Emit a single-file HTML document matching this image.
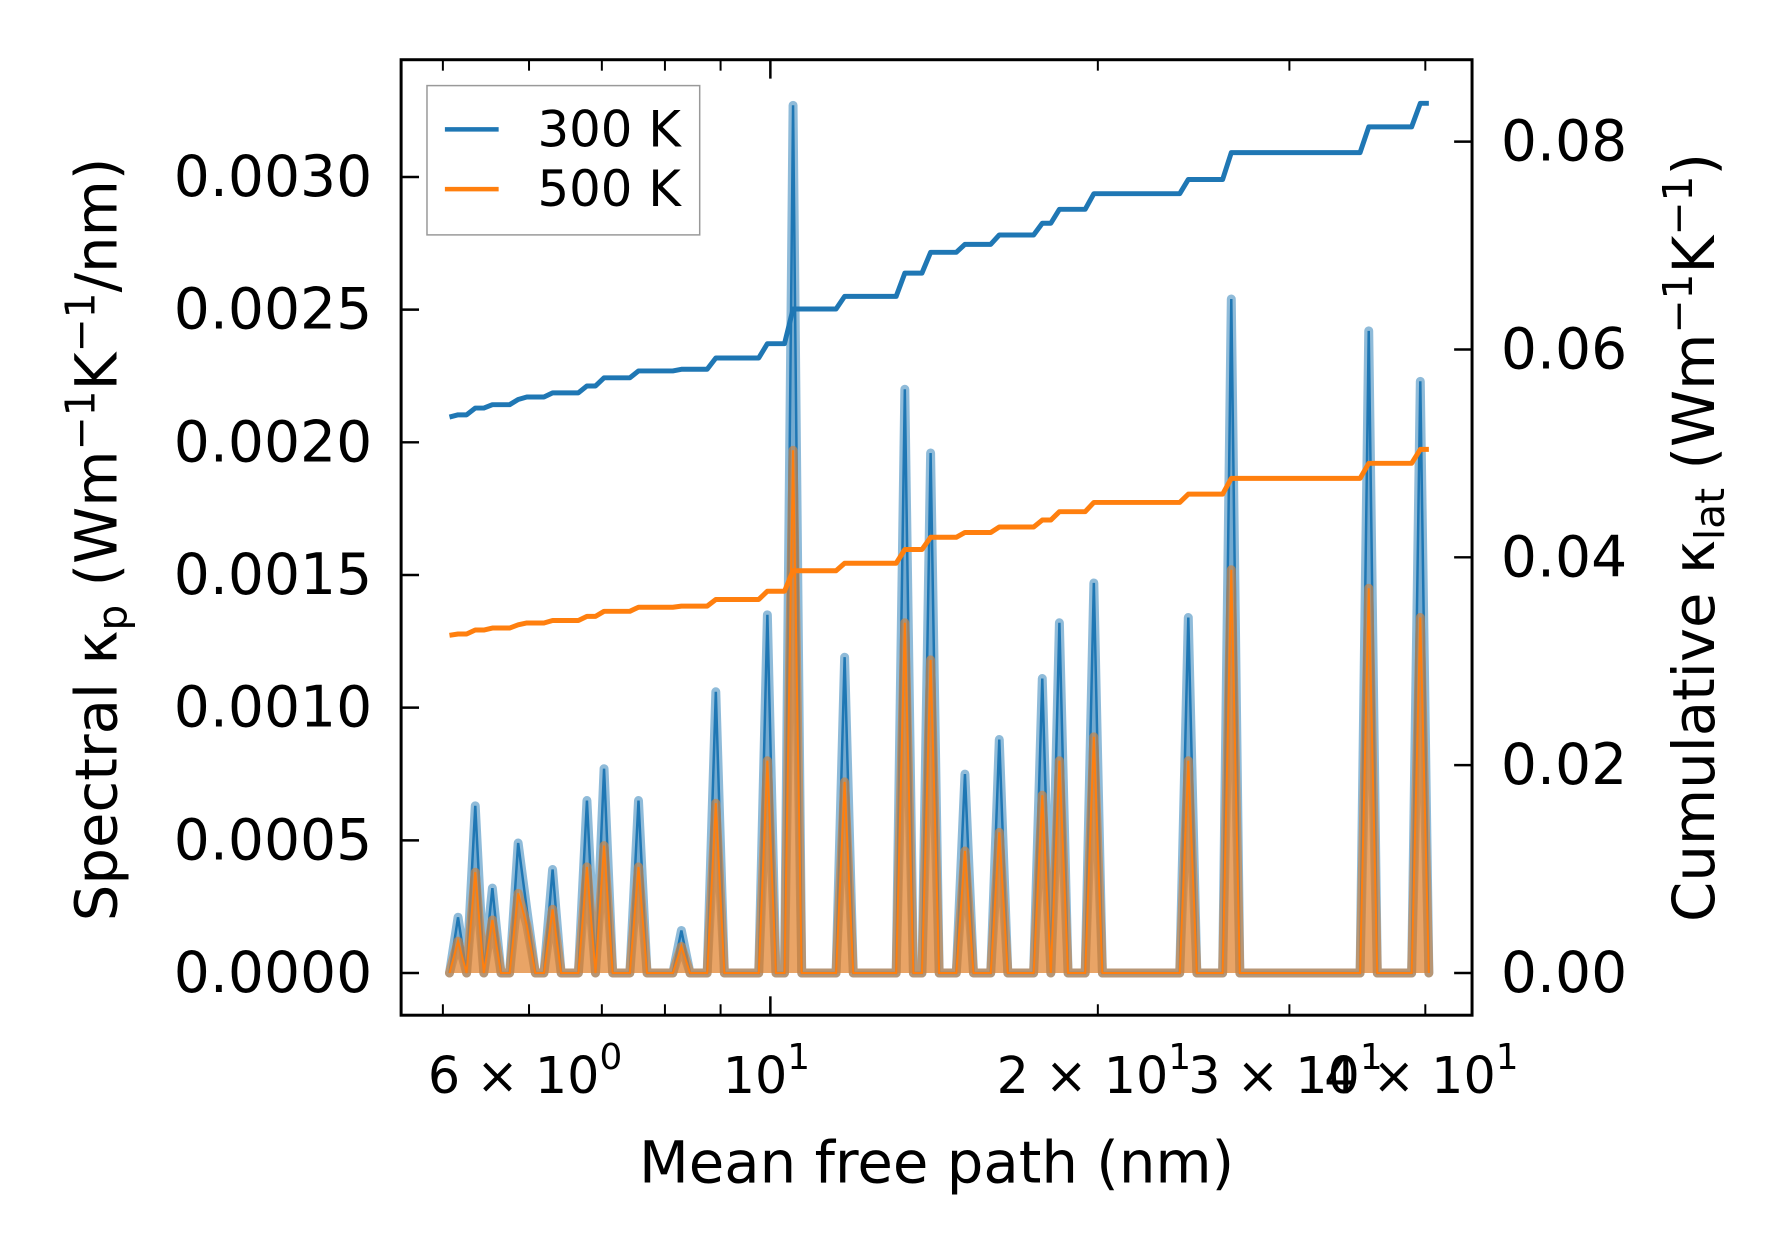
<!DOCTYPE html>
<html><head><meta charset="utf-8">
<style>
html,body{margin:0;padding:0;background:#fff;}
svg{display:block;font-family:"DejaVu Sans","Liberation Sans",sans-serif;}
</style></head>
<body>
<svg id="chart" width="1790" height="1253" viewBox="0 0 1790 1253" xmlns="http://www.w3.org/2000/svg">
<rect x="0" y="0" width="1790" height="1253" fill="#fff"/>
<defs><clipPath id="clip"><rect x="403" y="60" width="1076" height="960"/></clipPath></defs>
<g transform="scale(0.9953)">
<g id="series" clip-path="url(#clip)"></g>
<g id="axes"></g>
<g>
  <rect x="429" y="86" width="274" height="150" fill="#fff" fill-opacity="0.8" stroke="#999" stroke-width="1.5"/>
  <line x1="447" y1="130" x2="501" y2="130" stroke="#1f77b4" stroke-width="4.5"/>
  <text x="540" y="147" font-size="50">300 K</text>
  <line x1="447" y1="190" x2="501" y2="190" stroke="#ff7f0e" stroke-width="4.5"/>
  <text x="540" y="207" font-size="50">500 K</text>
</g>
<text x="941" y="1188" font-size="58" text-anchor="middle">Mean free path (nm)</text>
<text transform="translate(117,542) rotate(-90)" font-size="58" text-anchor="middle">Spectral κ<tspan font-size="41" dy="10">p</tspan><tspan dy="-10"> (Wm</tspan><tspan font-size="41" dy="-22">−1</tspan><tspan dy="22">K</tspan><tspan font-size="41" dy="-22">−1</tspan><tspan dy="22">/nm)</tspan></text>
<text transform="translate(1722,540) rotate(-90)" font-size="58" text-anchor="middle">Cumulative κ<tspan font-size="41" dy="10">lat</tspan><tspan dy="-10"> (Wm</tspan><tspan font-size="41" dy="-22">−1</tspan><tspan dy="22">K</tspan><tspan font-size="41" dy="-22">−1</tspan><tspan dy="22">)</tspan></text>
</g>
</svg>
<script>
// ---- data ----
const peakX = [5.16,5.38,5.60,5.84,6.01,6.36,6.80,7.00,7.60,8.35,8.85,9.87,10.58,11.66,13.38,13.94,15.17,16.23,17.88,18.41,19.93,24.24,26.33,35.27,39.32];
const peak300 = [0.00021,0.00063,0.00032,0.00049,0.00024,0.00039,0.00065,0.00077,0.00065,0.00016,0.00106,0.00135,0.00327,0.00119,0.00220,0.00196,0.00075,0.00088,0.00111,0.00132,0.00147,0.00134,0.00254,0.00242,0.00223];
const peak500 = [0.00012,0.00038,0.00020,0.00030,0.00018,0.00024,0.00040,0.00048,0.00040,0.00010,0.00064,0.00080,0.00197,0.00072,0.00132,0.00118,0.00046,0.00053,0.00067,0.00080,0.00089,0.00080,0.00152,0.00145,0.00134];
const cumStart = [0.0535, 0.0325];
const cumScale = [1.02, 1.0];
const mfpRange = [5.07, 40.3];
const gridCount = [115];
const yLeftTicks = [0,0.0005,0.0010,0.0015,0.0020,0.0025,0.0030];
const yLeftLabels = ["0.0000","0.0005","0.0010","0.0015","0.0020","0.0025","0.0030"];
const yRightTicks = [0,0.02,0.04,0.06,0.08];
const yRightLabels = ["0.00","0.02","0.04","0.06","0.08"];
const xMajor = [10];
const xMinor = [5,6,7,8,9,20,30,40];
const xLabelVals = [6,10,20,30,40];
const xLabelMant = ["6","","2","3","4"];
const xLabelExp = ["0","1","1","1","1"];

// ---- scales ----
const L=403,R=1479,T=60,B=1020;
const xs = v => 774 + 1093*Math.log10(v/10);
const yl = v => 977.6 - v*(977.6-177.8)/0.003;
const yr = v => 977.6 - v*(977.6-142.3)/0.08;
const NS='http://www.w3.org/2000/svg';
function mk(tag, attrs, parent){const e=document.createElementNS(NS,tag);for(const k in attrs)e.setAttribute(k,attrs[k]);parent.appendChild(e);return e;}

const N=gridCount[0];
const lx0=Math.log10(mfpRange[0]), lx1=Math.log10(mfpRange[1]);
const grid=[];for(let i=0;i<N;i++)grid.push(Math.pow(10,lx0+(lx1-lx0)*i/(N-1)));
function series(hs){const s=new Array(N).fill(0);peakX.forEach((p,k)=>{let bi=0,bd=1e9;grid.forEach((g,i)=>{const d=Math.abs(Math.log10(g)-Math.log10(p));if(d<bd){bd=d;bi=i;}});s[bi]=hs[k];});return s;}
const s300=series(peak300), s500=series(peak500);
function cum(s,start,sc){let c=start;return s.map(v=>{c+=v*sc;return c;});}
const c300=cum(s300,cumStart[0],cumScale[0]), c500=cum(s500,cumStart[1],cumScale[1]);

const g=document.getElementById('series');
function pathOf(s,ys){return s.map((v,i)=>(i?'L':'M')+xs(grid[i]).toFixed(1)+','+ys(v).toFixed(1)).join('');}
let e;
e=mk('path',{d:pathOf(s300,yl)+'L'+xs(grid[N-1])+','+yl(0)+'L'+xs(grid[0])+','+yl(0)+'Z',fill:'#1f77b4','fill-opacity':0.25,stroke:'none'},g);


e=mk('path',{d:pathOf(s300,yl),fill:'none',stroke:'#1f77b4','stroke-opacity':0.5,'stroke-width':9,'stroke-linejoin':'round','stroke-linecap':'round'},g);


e=mk('path',{d:pathOf(s300,yl),fill:'none',stroke:'#1f77b4','stroke-width':2.5},g);


e=mk('path',{d:pathOf(s500,yl)+'L'+xs(grid[N-1])+','+yl(0)+'L'+xs(grid[0])+','+yl(0)+'Z',fill:'#ff7f0e','fill-opacity':0.6,stroke:'none'},g);


e=mk('path',{d:pathOf(s500,yl),fill:'none',stroke:'#c8864a','stroke-opacity':0.7,'stroke-width':9,'stroke-linejoin':'round','stroke-linecap':'round'},g);


e=mk('path',{d:pathOf(s500,yl),fill:'none',stroke:'#ff7f0e','stroke-width':2},g);


e=mk('path',{d:pathOf(c300,yr),fill:'none',stroke:'#1f77b4','stroke-width':5,'stroke-linejoin':'round'},g);


e=mk('path',{d:pathOf(c500,yr),fill:'none',stroke:'#ff7f0e','stroke-width':5,'stroke-linejoin':'round'},g);



const a=document.getElementById('axes');
e=mk('rect',{x:L,y:T,width:R-L,height:B-T,fill:'none',stroke:'#000','stroke-width':3},a);


yLeftTicks.forEach((v,i)=>{const y=yl(v);
 e=mk('line',{x1:L,y1:y,x2:L+18,y2:y,stroke:'#000','stroke-width':2.5},a);
 
 
 e=mk('text',{x:374,y:y,'font-size':57,'text-anchor':'end','dominant-baseline':'central'},a);e.textContent=yLeftLabels[i];
 
 });
yRightTicks.forEach((v,i)=>{const y=yr(v);
 e=mk('line',{x1:R-18,y1:y,x2:R,y2:y,stroke:'#000','stroke-width':2.5},a);
 
 
 e=mk('text',{x:1508,y:y,'font-size':57,'dominant-baseline':'central'},a);e.textContent=yRightLabels[i];
 
 });
xMajor.forEach(v=>{const x=xs(v);
 [[B,B-19],[T,T+19]].forEach(p=>{e=mk('line',{x1:x,y1:p[0],x2:x,y2:p[1],stroke:'#000','stroke-width':2.5},a);
 
 });});
xMinor.forEach(v=>{const x=xs(v);
 [[B,B-11],[T,T+11]].forEach(p=>{e=mk('line',{x1:x,y1:p[0],x2:x,y2:p[1],stroke:'#000','stroke-width':2},a);
 
 });});
xLabelVals.forEach((v,i)=>{const x=xs(v);
 e=mk('text',{x:x-4,y:1098,'font-size':51,'text-anchor':'middle'},a);
 const m=xLabelMant[i];
 e.innerHTML=(m?m+' × ':'')+'10<tspan font-size="36" dy="-24">'+xLabelExp[i]+'</tspan>';
 
 });
</script>
</body></html>
